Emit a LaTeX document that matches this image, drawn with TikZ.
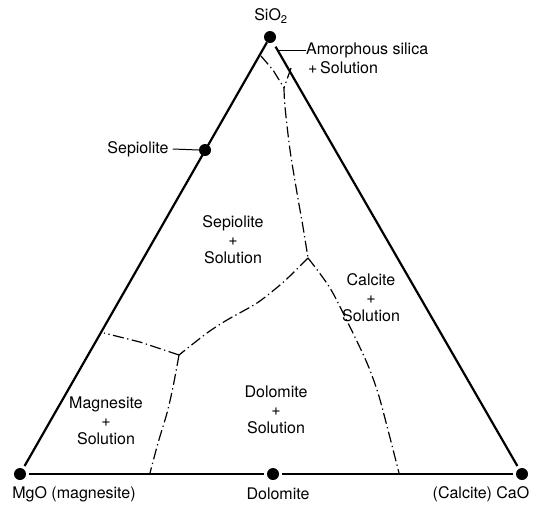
\documentclass[tikz,border=0pt]{standalone}
\usepackage{fontspec}
\setmainfont{TeX Gyre Heros}
\begin{document}
\begin{tikzpicture}[x=1pt,y=-1pt,
  dot/.style={circle,fill=black,inner sep=0pt,minimum size=12pt},
  edge/.style={line width=2.2pt,shorten <=3pt,shorten >=3pt},
  leader/.style={line width=1pt},
  phase/.style={line width=1.2pt,dash pattern=on 11pt off 3.5pt on 1.3pt off 3.5pt},
  lbl/.style={font=\fontsize{16}{18}\selectfont,inner sep=0pt,align=center},
]
\useasboundingbox (0,0) rectangle (537,507);
% vertices and points
\node[dot] (sio2) at (270,37) {};
\node[dot] (mgo) at (20,474) {};
\node[dot] (cao) at (522,474) {};
\node[dot] (dol) at (273,474) {};
\node[dot] (sep) at (205,150) {};
% triangle
\draw[edge,shorten <=0pt] (sio2) -- (mgo);
\draw[edge,shorten <=5pt] (sio2) -- (cao);
\draw[edge] (mgo) -- (dol);
\draw[edge] (dol) -- (cao);
% labels
\node[lbl] (lsio2) at (271,16) {SiO\textsubscript{2}};
\node[lbl,anchor=west] (amA) at (306,50) {Amorphous silica};
\node[lbl,anchor=west] (amB) at (308,68) {+\,Solution};
\coordinate (amx) at (278,50);
\draw[leader] (amx) -- (amA.west);
\node[lbl] (lsep) at (138,149) {Sepiolite};
\draw[leader] (lsep.east) ++(4pt,0) coordinate (sepx);
\draw[leader] (sepx) -- (sep.west);
\node[lbl] (rsep) at (233,240) {Sepiolite\\+\\Solution};
\node[lbl] (rcal) at (371,298) {Calcite\\+\\Solution};
\node[lbl] (rmag) at (106,421) {Magnesite\\+\\Solution};
\node[lbl] (rdol) at (276,410) {Dolomite\\+\\Solution};
\node[lbl] (lmgo) at (74,494) {MgO (magnesite)};
\node[lbl] (ldol) at (278,494) {Dolomite};
\node[lbl] (lcao) at (481,494) {(Calcite) CaO};
% phase boundaries
\coordinate (J1) at (284,88);
\coordinate (J2) at (308,258);
\coordinate (J3) at (179,355);
\coordinate (a1) at (261,56);
\coordinate (a2) at (291,68);
\coordinate (b1) at (104,333);
\coordinate (b2) at (150,473);
\coordinate (b3) at (399,473);
\draw[phase] (a1) -- (273,70) -- (J1);
\draw[phase] (a2) -- (J1);
\draw[phase] plot[smooth,tension=0.5] coordinates {(J1) (285,107) (290,150) (297,193) (303,227) (J2)};
\draw[phase] plot[smooth,tension=0.5] coordinates {(J2) (293,273) (280,285) (257,303) (227,320) (207,333) (J3)};
\draw[phase] (J3) -- (140,342) -- (b1);
\draw[phase] plot[smooth,tension=0.5] coordinates {(J3) (173,387) (167,413) (158,443) (b2)};
\draw[phase] plot[smooth,tension=0.5] coordinates {(J2) (330,288) (350,327) (367,363) (378,393) (388,430) (b3)};
\end{tikzpicture}
\end{document}
